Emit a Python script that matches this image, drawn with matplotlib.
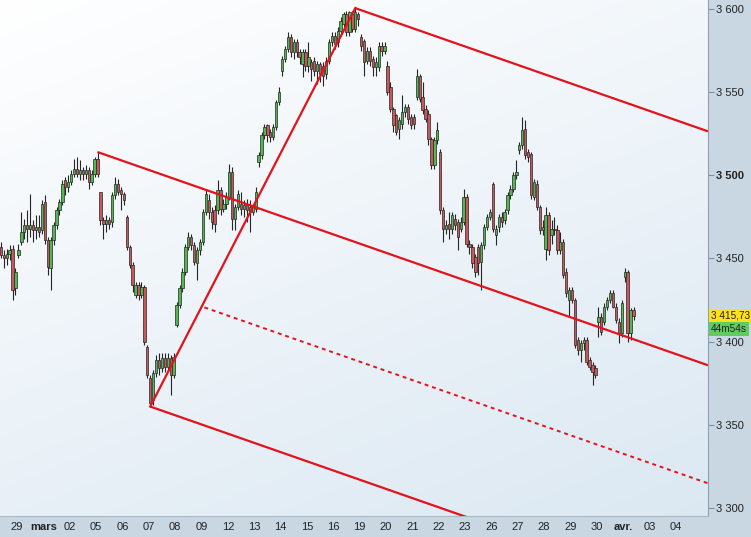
import numpy as np
import matplotlib
matplotlib.use("Agg")
import matplotlib.pyplot as plt
from matplotlib.transforms import blended_transform_factory

plt.rcParams['font.family'] = ['Liberation Sans', 'DejaVu Sans']

# ---- session calendar (hourly bars, 9 per session) ----
day_labels = ["28", "29", "mars", "02", "05", "06", "07", "08", "09", "12", "13",
              "14", "15", "16", "19", "20", "21", "22", "23", "26", "27", "28",
              "29", "30", "avr.", "03", "04"]
bold_labels = {"mars", "avr."}
bars_in_day = [6] + [9] * 23 + [4]
first_hour = 3
bars_per_session = 9

# ---- hourly OHLC, one line per session ----
opens = [
    3457, 3452, 3450, 3453, 3456, 3432,                       # 28 fév
    3452, 3460, 3466, 3470, 3468, 3470, 3467, 3469, 3467,     # 29 fév
    3484, 3461, 3444, 3461, 3470, 3479, 3484, 3497, 3493,     # 01 mars
    3496, 3501, 3504, 3501, 3503, 3501, 3503, 3496, 3501,     # 02
    3510, 3490, 3473, 3471, 3473, 3472, 3488, 3495, 3491,     # 05
    3489, 3475, 3457, 3446, 3428, 3434, 3428, 3433, 3397,     # 06
    3378, 3365, 3381, 3389, 3384, 3390, 3385, 3390, 3380,     # 07
    3410, 3422, 3432, 3442, 3457, 3463, 3458, 3447, 3455,     # 08
    3460, 3478, 3485, 3478, 3479, 3479, 3491, 3480, 3483,     # 09
    3487, 3502, 3474, 3481, 3483, 3480, 3482, 3481, 3478,     # 12
    3480, 3508, 3512, 3524, 3530, 3526, 3523, 3529, 3544,     # 13
    3563, 3570, 3576, 3583, 3574, 3580, 3574, 3567, 3574,     # 14
    3566, 3568, 3569, 3563, 3567, 3566, 3561, 3569, 3580,     # 15
    3584, 3580, 3587, 3591, 3597, 3586, 3597, 3588, 3597,     # 16
    3583, 3581, 3569, 3575, 3570, 3565, 3565, 3578, 3575,     # 19
    3566, 3553, 3540, 3536, 3528, 3531, 3538, 3541, 3535,     # 20
    3535, 3547, 3560, 3547, 3540, 3537, 3522, 3506, 3521,     # 21
    3514, 3479, 3468, 3471, 3468, 3474, 3472, 3468, 3472,     # 22
    3487, 3459, 3457, 3451, 3457, 3448, 3458, 3469, 3475,     # 23
    3495, 3464, 3469, 3475, 3473, 3479, 3488, 3492, 3500,     # 26
    3515, 3518, 3528, 3514, 3513, 3487, 3495, 3481, 3467,     # 27
    3456, 3476, 3464, 3468, 3467, 3455, 3460, 3442, 3425,     # 28
    3431, 3425, 3401, 3395, 3399, 3401, 3389, 3386, 3384,     # 29
    3412, 3415, 3412, 3421, 3425, 3429, 3421, 3412, 3405,     # 30
    3439, 3442, 3405, 3419,                                   # 02 avr.
]
highs = [
    3460, 3455, 3456, 3458, 3458, 3444,
    3459, 3478, 3474, 3479, 3489, 3473, 3476, 3476, 3485,
    3488, 3463, 3463, 3472, 3481, 3486, 3497, 3499, 3500,
    3503, 3510, 3511, 3509, 3505, 3506, 3505, 3503, 3511,
    3514, 3490, 3475, 3476, 3475, 3490, 3499, 3498, 3493,
    3490, 3476, 3458, 3448, 3436, 3436, 3436, 3434, 3398,
    3380, 3383, 3392, 3393, 3393, 3393, 3393, 3392, 3393,
    3424, 3434, 3444, 3459, 3466, 3465, 3460, 3457, 3462,
    3480, 3492, 3489, 3481, 3482, 3497, 3493, 3486, 3490,
    3507, 3505, 3483, 3491, 3490, 3485, 3486, 3485, 3483,
    3493, 3514, 3526, 3531, 3531, 3528, 3531, 3545, 3553,
    3572, 3578, 3586, 3585, 3582, 3582, 3576, 3576, 3576,
    3580, 3570, 3571, 3569, 3568, 3568, 3571, 3582, 3586,
    3586, 3589, 3595, 3598, 3599, 3599, 3599, 3600.5, 3598,
    3585, 3582, 3577, 3577, 3572, 3571, 3580, 3580, 3580,
    3569, 3556, 3541, 3537, 3535, 3548, 3543, 3543, 3537,
    3537, 3564, 3561, 3556, 3542, 3539, 3523, 3523, 3532,
    3516, 3481, 3473, 3478, 3478, 3477, 3474, 3475, 3492,
    3489, 3461, 3459, 3453, 3459, 3460, 3471, 3477, 3480,
    3496, 3470, 3477, 3478, 3480, 3490, 3494, 3502, 3509,
    3520, 3535, 3533, 3516, 3514, 3498, 3497, 3482, 3473,
    3481, 3478, 3473, 3475, 3470, 3466, 3462, 3444, 3433,
    3433, 3426, 3403, 3401, 3403, 3403, 3391, 3388, 3386,
    3421, 3417, 3423, 3427, 3431, 3431, 3423, 3414, 3425,
    3444, 3443, 3420, 3421,
]
lows = [
    3450, 3444, 3446, 3449, 3425, 3428,
    3450, 3458, 3462, 3460, 3463, 3460, 3462, 3463, 3465,
    3459, 3440, 3431, 3458, 3468, 3476, 3482, 3488, 3490,
    3494, 3499, 3499, 3497, 3497, 3498, 3492, 3494, 3499,
    3499, 3470, 3462, 3466, 3468, 3469, 3486, 3488, 3479,
    3482, 3455, 3444, 3430, 3426, 3425, 3426, 3398, 3378,
    3361, 3362, 3379, 3380, 3382, 3382, 3383, 3368, 3378,
    3409, 3420, 3430, 3440, 3455, 3455, 3446, 3437, 3452,
    3458, 3476, 3474, 3468, 3466, 3477, 3476, 3478, 3480,
    3485, 3467, 3467, 3479, 3476, 3475, 3472, 3466, 3476,
    3478, 3505, 3510, 3522, 3520, 3520, 3521, 3527, 3542,
    3560, 3568, 3574, 3571, 3570, 3571, 3567, 3559, 3563,
    3562, 3557, 3560, 3555, 3556, 3554, 3558, 3567, 3578,
    3576, 3577, 3585, 3589, 3584, 3584, 3586, 3586, 3590,
    3575, 3560, 3567, 3566, 3560, 3560, 3563, 3572, 3573,
    3548, 3538, 3526, 3524, 3522, 3528, 3535, 3531, 3528,
    3528, 3545, 3544, 3537, 3532, 3518, 3504, 3504, 3519,
    3477, 3460, 3465, 3462, 3465, 3467, 3455, 3466, 3470,
    3457, 3453, 3444, 3439, 3440, 3431, 3456, 3467, 3473,
    3466, 3458, 3466, 3469, 3471, 3477, 3486, 3490, 3498,
    3513, 3516, 3510, 3508, 3486, 3485, 3479, 3465, 3464,
    3449, 3452, 3459, 3464, 3453, 3453, 3438, 3427, 3415,
    3423, 3396, 3392, 3388, 3395, 3386, 3383, 3374, 3378,
    3403, 3404, 3410, 3419, 3423, 3420, 3411, 3399, 3403,
    3436, 3400, 3401, 3413,
]
closes = [
    3452, 3450, 3453, 3455, 3431, 3442,
    3455, 3466, 3470, 3468, 3470, 3467, 3469, 3466, 3483,
    3461, 3445, 3461, 3470, 3479, 3484, 3495, 3493, 3496,
    3501, 3504, 3501, 3503, 3501, 3503, 3496, 3501, 3510,
    3501, 3473, 3471, 3473, 3471, 3488, 3495, 3490, 3489,
    3485, 3457, 3446, 3434, 3434, 3428, 3433, 3400, 3380,
    3363, 3381, 3389, 3384, 3390, 3385, 3390, 3380, 3391,
    3422, 3432, 3442, 3457, 3463, 3458, 3448, 3455, 3460,
    3478, 3489, 3478, 3472, 3471, 3491, 3480, 3483, 3487,
    3502, 3474, 3481, 3489, 3480, 3482, 3479, 3478, 3481,
    3490, 3512, 3524, 3529, 3524, 3523, 3529, 3544, 3550,
    3570, 3576, 3583, 3574, 3580, 3574, 3571, 3574, 3566,
    3571, 3564, 3563, 3567, 3561, 3560, 3569, 3580, 3584,
    3579, 3587, 3593, 3597, 3586, 3598, 3588, 3598, 3594,
    3578, 3568, 3575, 3569, 3565, 3568, 3578, 3575, 3578,
    3550, 3540, 3530, 3526, 3533, 3538, 3541, 3534, 3530,
    3531, 3560, 3546, 3539, 3534, 3522, 3506, 3521, 3527,
    3479, 3468, 3470, 3468, 3476, 3470, 3463, 3472, 3487,
    3459, 3457, 3447, 3442, 3447, 3458, 3469, 3475, 3478,
    3468, 3468, 3475, 3472, 3478, 3488, 3492, 3500, 3502,
    3518, 3527, 3512, 3511, 3488, 3496, 3481, 3467, 3469,
    3476, 3455, 3468, 3467, 3455, 3460, 3440, 3429, 3431,
    3425, 3398, 3395, 3399, 3401, 3388, 3385, 3382, 3380,
    3415, 3406, 3421, 3425, 3429, 3421, 3413, 3405, 3423,
    3442, 3405, 3419, 3415.73,
]

# ---- channel drawn on the chart ----
# pivots: (session index, hour) -> A: high, B: low, C: high
pivot_a = (4, 0)
pivot_b = (6, 0)
pivot_c = (13, 7)
channel_slope = -0.615        # points per hourly bar
midline_start_bar = 73        # where the dotted half-line begins
countdown = "44m54s"

y_ticks = [3300, 3350, 3400, 3450, 3500, 3550, 3600]

# ---- bar positions ----
t = []
for k, n in enumerate(bars_in_day):
    start = first_hour if k == 0 else 0
    for h in range(start, start + n):
        t.append(bars_per_session * k + h + 0.5)
t = np.array(t)
o = np.array(opens, float)
h = np.array(highs, float)
l = np.array(lows, float)
c = np.array(closes, float)


def bar_pos(day, hour):
    return bars_per_session * day + hour + 0.5


def bar_value(day, hour, arr):
    idx = int(np.argmin(np.abs(t - bar_pos(day, hour))))
    return arr[idx]


W, H = 751, 537
panel = "#c9d7e2"
fig = plt.figure(figsize=(W / 100, H / 100), dpi=100, facecolor=panel)
ax = fig.add_axes([0, 21 / H, 708 / W, 516 / H])

x_min, x_max = 3.21, 244.93
y_min, y_max = 3295.2, 3605.4

# soft background wash
gy, gx = np.mgrid[0:1:200j, 0:1:200j]
g = 0.65 * gy + 0.35 * gx
c0 = np.array([1.0, 1.0, 1.0])
c1 = np.array([0.86, 0.91, 0.95])
img = c0[None, None, :] * (1 - g[..., None]) + c1[None, None, :] * g[..., None]
ax.imshow(img, extent=[0, 1, 0, 1], transform=ax.transAxes, aspect="auto",
          zorder=0, interpolation="bilinear")

# candles
up = c >= o
green, red, edge = "#4fb84f", "#c9575a", "#262626"
ax.vlines(t, l, h, color=edge, lw=0.8, zorder=2)
body_lo = np.minimum(o, c)
body_h = np.maximum(np.abs(c - o), 0.7)
ax.bar(t, body_h, bottom=body_lo, width=0.8,
       color=np.where(up, green, red), edgecolor=edge, linewidth=0.5, zorder=3)

# channel lines
line_red = "#e3121b"
ta, pa = bar_pos(*pivot_a), bar_value(*pivot_a, h)
tb, pb = bar_pos(*pivot_b), bar_value(*pivot_b, l)
tc, pc = bar_pos(*pivot_c), bar_value(*pivot_c, h)


def chan(t0, p0, t1):
    return [t0, t1], [p0, p0 + channel_slope * (t1 - t0)]


for (t0, p0) in [(ta, pa), (tb, pb), (tc, pc)]:
    xs, ys = chan(t0, p0, x_max)
    ax.plot(xs, ys, color=line_red, lw=1.6, zorder=4, solid_capstyle="butt")
ax.plot([tb, tc], [pb, pc], color=line_red, lw=1.6, zorder=4)

mid_p0 = (pa + channel_slope * (midline_start_bar - ta) +
          pb + channel_slope * (midline_start_bar - tb)) / 2
xs, ys = chan(midline_start_bar, mid_p0, x_max)
ax.plot(xs, ys, color=line_red, lw=1.4, ls=(0, (2, 2)), zorder=4)

ax.set_xlim(x_min, x_max)
ax.set_ylim(y_min, y_max)

# axes styling
for s in ["top", "left"]:
    ax.spines[s].set_visible(False)
ax.spines["right"].set_color("#8ea0b1")
ax.spines["bottom"].set_color("#a9b9c7")
ax.set_xticks([])
ax.yaxis.tick_right()
ax.set_yticks(y_ticks)
ax.set_yticklabels([f"{v // 1000} {v % 1000:03d}" for v in y_ticks])
ax.tick_params(axis="y", direction="out", length=4, width=0.8, color="#7f8f9e",
               labelsize=8, labelcolor="#222222", pad=2)
for lab in ax.get_yticklabels():
    if lab.get_text() == "3 500":
        lab.set_fontweight("bold")

# session labels along the bottom band
xt = blended_transform_factory(ax.transData, ax.transAxes)
for k, lab in enumerate(day_labels):
    ax.text(bars_per_session * k, -0.021, lab, transform=xt, ha="center",
            va="center", fontsize=8, color="#222222", clip_on=False,
            fontweight="bold" if lab in bold_labels else "normal")

# last price and countdown tags
yt = blended_transform_factory(ax.transAxes, ax.transData)
last = c[-1]
price_txt = f"{int(last) // 1000} {int(last) % 1000:03d},{round((last % 1) * 100):02d}"
ax.text(1.004, last, price_txt, transform=yt, ha="left", va="center",
        fontsize=7.2, color="#222222", clip_on=False, zorder=6,
        bbox=dict(boxstyle="square,pad=0.2", fc="#ffe11a", ec="none"))
ax.annotate(countdown, xy=(1.004, last), xycoords=yt, xytext=(0, -10),
            textcoords="offset points", ha="left", va="center", fontsize=7.2,
            color="#222222", annotation_clip=False, zorder=6,
            bbox=dict(boxstyle="square,pad=0.2", fc="#5fcc5f", ec="none"))

fig.savefig("out.png", dpi=100, facecolor=panel)
